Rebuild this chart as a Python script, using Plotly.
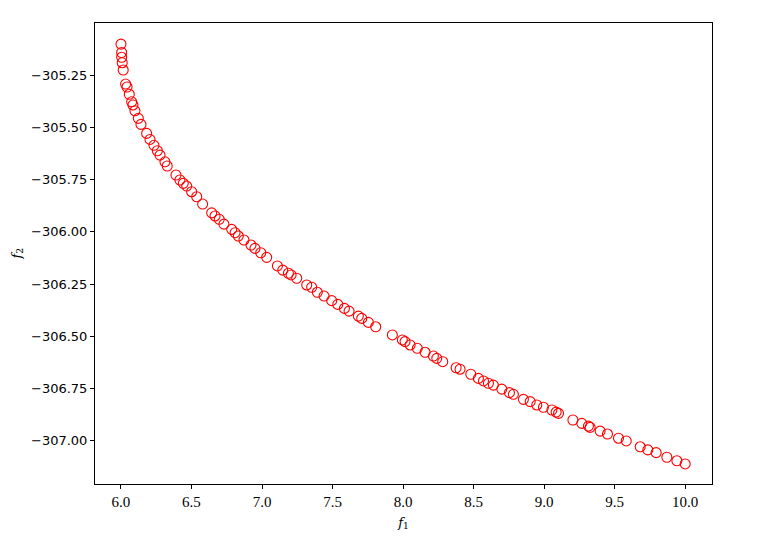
import plotly.graph_objects as go

f1 = [6.000, 6.005, 6.005, 6.009, 6.016, 6.033, 6.043, 6.059, 6.076, 6.085,
      6.099, 6.123, 6.142, 6.182, 6.206, 6.234, 6.258, 6.277, 6.312, 6.328,
      6.390, 6.418, 6.442, 6.466, 6.501, 6.537, 6.579, 6.643, 6.667, 6.697,
      6.730, 6.785, 6.809, 6.832, 6.872, 6.922, 6.950, 6.991, 7.033, 7.109,
      7.147, 7.187, 7.206, 7.246, 7.317, 7.352, 7.392, 7.440, 7.494, 7.537,
      7.584, 7.617, 7.683, 7.707, 7.754, 7.806, 7.924, 7.995, 8.014, 8.050,
      8.101, 8.156, 8.215, 8.239, 8.281, 8.376, 8.404, 8.480, 8.534, 8.570,
      8.605, 8.640, 8.700, 8.754, 8.782, 8.853, 8.901, 8.948, 8.995, 9.055,
      9.085, 9.102, 9.204, 9.267, 9.314, 9.326, 9.397, 9.449, 9.527, 9.582,
      9.681, 9.735, 9.794, 9.870, 9.941, 10.000]
f2 = [-305.102, -305.142, -305.165, -305.191, -305.226, -305.293, -305.307, -305.342, -305.378, -305.393,
      -305.421, -305.457, -305.486, -305.529, -305.558, -305.586, -305.612, -305.633, -305.665, -305.685,
      -305.728, -305.752, -305.768, -305.781, -305.808, -305.832, -305.867, -305.909, -305.924, -305.940,
      -305.963, -305.988, -306.004, -306.020, -306.039, -306.063, -306.079, -306.100, -306.122, -306.163,
      -306.183, -306.198, -306.206, -306.222, -306.254, -306.265, -306.289, -306.307, -306.329, -306.347,
      -306.366, -306.379, -306.403, -306.414, -306.433, -306.454, -306.493, -306.517, -306.525, -306.541,
      -306.557, -306.576, -306.594, -306.605, -306.621, -306.650, -306.657, -306.681, -306.701, -306.713,
      -306.724, -306.733, -306.752, -306.769, -306.777, -306.801, -306.812, -306.828, -306.839, -306.852,
      -306.862, -306.868, -306.900, -306.916, -306.929, -306.935, -306.953, -306.967, -306.987, -307.000,
      -307.028, -307.043, -307.056, -307.078, -307.095, -307.110]

x_ticks = [6.0, 6.5, 7.0, 7.5, 8.0, 8.5, 9.0, 9.5, 10.0]
y_ticks = [-305.25, -305.50, -305.75, -306.00, -306.25, -306.50, -306.75, -307.00]

fig = go.Figure(go.Scatter(
    x=f1, y=f2, mode="markers",
    marker=dict(symbol="circle-open", size=10, color="red", line=dict(width=1.1, color="red")),
))

fig.update_layout(
    width=756, height=529,
    margin=dict(l=87, r=52, t=15, b=53),
    plot_bgcolor="white", paper_bgcolor="white",
    showlegend=False,
    annotations=[dict(
        text="<i>f</i><sub>2</sub>", xref="paper", yref="paper", x=0, y=0.5,
        xanchor="center", yanchor="middle", xshift=-78, textangle=-90, showarrow=False,
        font=dict(family="DejaVu Serif", size=13, color="black"),
    )],
)
fig.update_xaxes(
    range=[5.816, 10.19], tickvals=x_ticks, ticktext=[f"{v:.1f}" for v in x_ticks],
    showgrid=False, zeroline=False, showline=True, linecolor="black", linewidth=1, mirror=True,
    ticks="outside", ticklen=4, tickcolor="black", automargin=False,
    tickfont=dict(family="Liberation Serif", size=15, color="black"),
    title=dict(text="<i>f</i><sub>1</sub>", font=dict(family="DejaVu Serif", size=13, color="black"), standoff=8),
)
fig.update_yaxes(
    range=[-307.206, -305.001], tickvals=y_ticks, ticktext=[f"−{abs(v):.2f}" for v in y_ticks],
    showgrid=False, zeroline=False, showline=True, linecolor="black", linewidth=1, mirror=True,
    ticks="outside", ticklen=4, tickcolor="black", automargin=False,
    tickfont=dict(family="DejaVu Sans", size=13, color="black"),
)

fig.write_html("out.html")
